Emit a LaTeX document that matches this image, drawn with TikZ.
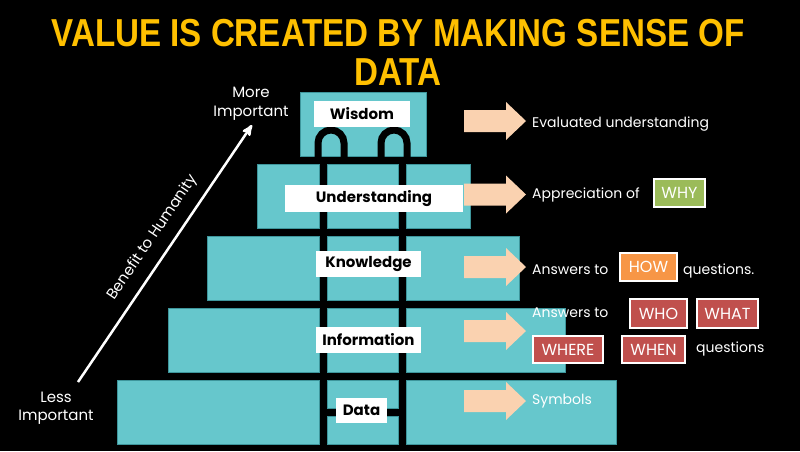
\documentclass[tikz,border=0pt]{standalone}
\usepackage{fontspec}
\setmainfont{Poppins}
\newfontfamily\titlefont[FakeStretch=0.85]{Liberation Sans}
\usetikzlibrary{positioning,calc,arrows}
\definecolor{tealblock}{RGB}{102,199,204}
\definecolor{tealedge}{RGB}{62,150,156}
\definecolor{peach}{RGB}{250,210,176}
\definecolor{gold}{RGB}{255,192,0}
\definecolor{whygreen}{RGB}{155,187,89}
\definecolor{howorange}{RGB}{247,150,70}
\definecolor{askred}{RGB}{192,80,77}

\begin{document}
\begin{tikzpicture}[x=1pt,y=-1pt,>=stealth',
    block/.style={fill=tealblock,draw=tealedge,line width=0.8pt},
    level/.style={fill=white,inner sep=0pt,font=\fontsize{15}{17}\selectfont\bfseries},
    side/.style={anchor=base west,text=white,inner sep=0pt,font=\fontsize{14}{16}\selectfont},
    tag/.style={draw=white,line width=1.5pt,text=white,inner sep=0pt,font=\fontsize{16}{18}\selectfont},
    fat arrow/.pic={\fill[peach] (0,-11) -- (42,-11) -- (42,-19) -- (62,0)
      -- (42,19) -- (42,11) -- (0,11) -- cycle;}]
    \useasboundingbox (0,0) rectangle (800,451);
    \fill[black] (0,0) rectangle (800,451);
    % title
      \node[anchor=base,text=gold,inner sep=0pt,font=\titlefont\fontsize{39}{44}\selectfont\bfseries]
        (title1) at (398,46) {VALUE IS CREATED BY MAKING SENSE OF};
      \node[anchor=base,text=gold,inner sep=0pt,font=\titlefont\fontsize{39}{44}\selectfont\bfseries]
        (title2) at (398,85) {DATA};
    % pyramid
      \draw[block] (300,92) rectangle (426,156);
      \draw[block] (257,164) rectangle (319,228);
      \draw[block] (327,164) rectangle (398,228);
      \draw[block] (406,164) rectangle (470,228);
      \draw[block] (207,236) rectangle (319,300);
      \draw[block] (327,236) rectangle (398,300);
      \draw[block] (406,236) rectangle (519,300);
      \draw[block] (168,308) rectangle (319,372);
      \draw[block] (327,308) rectangle (398,372);
      \draw[block] (406,308) rectangle (565,372);
      \draw[block] (117,380) rectangle (319,444);
      \draw[block] (327,380) rectangle (398,408);
      \draw[block] (327,416) rectangle (398,444);
      \draw[block] (406,380) rectangle (616,444);
      \draw[black,line width=7pt] (318,157) -- (318,143) arc[start angle=180,end angle=0,radius=13pt] -- (344,157);
      \draw[black,line width=7pt] (381,157) -- (381,143) arc[start angle=180,end angle=0,radius=13pt] -- (407,157);
    % levels
      \node[level,minimum width=96pt,minimum height=26pt] (wis) at (362,114) {Wisdom};
      \node[level,minimum width=178pt,minimum height=27pt] (und) at (374,198.5) {Understanding};
      \node[level,minimum width=105pt,minimum height=26pt] (kno) at (368.5,264) {Knowledge};
      \node[level,minimum width=105pt,minimum height=26pt] (inf) at (368.5,340) {Information};
      \node[level,minimum width=51pt,minimum height=25pt] (dat) at (361.5,410.5) {Data};
    % arrows
      \pic at (464,121) {fat arrow};
      \pic at (464,194.5) {fat arrow};
      \pic at (464,267) {fat arrow};
      \pic at (464,331) {fat arrow};
      \pic at (464,401) {fat arrow};
    % meanings
      \node[side] (evalt) at (532,127) {Evaluated understanding};
      \node[side] (appr) at (532,198) {Appreciation of};
      \node[tag,fill=whygreen,minimum width=51pt,minimum height=28pt] (why) at (679.5,193) {WHY};
      \node[side] (ansk) at (532,274) {Answers to};
      \node[tag,fill=howorange,minimum width=57pt,minimum height=28pt] (how) at (648.5,267) {HOW};
      \node[side] (howq) at (683,274) {questions.};
      \node[side] (ansi) at (532,317) {Answers to};
      \node[tag,fill=askred,minimum width=57pt,minimum height=29pt] (who) at (658.5,313.5) {WHO};
      \node[tag,fill=askred,minimum width=61pt,minimum height=29pt] (what) at (727.5,313.5) {WHAT};
      \node[tag,fill=askred,minimum width=70pt,minimum height=27pt] (where) at (568,349.5) {WHERE};
      \node[tag,fill=askred,minimum width=63pt,minimum height=27pt] (when) at (653.5,349.5) {WHEN};
      \node[side] (whq) at (696,352) {questions};
      \node[side] (sym) at (532,404) {Symbols};
    % axis
      \node[anchor=base,text=white,inner sep=0pt,font=\fontsize{15}{17}\selectfont] (more1) at (251,97) {More};
      \node[anchor=base,text=white,inner sep=0pt,font=\fontsize{15}{17}\selectfont] (more2) at (251,116) {Important};
      \node[anchor=base,text=white,inner sep=0pt,font=\fontsize{15}{17}\selectfont] (less1) at (56,402) {Less};
      \node[anchor=base,text=white,inner sep=0pt,font=\fontsize{15}{17}\selectfont] (less2) at (56,420) {Important};
      \coordinate (low) at (78,382);
      \coordinate (high) at (252,125);
      \draw[->,white,line width=2.5pt] (low) -- (high)
        node[pos=0.52,sloped,above=7pt,font=\fontsize{15}{17}\selectfont] (benefit) {Benefit to Humanity};
\end{tikzpicture}
\end{document}
